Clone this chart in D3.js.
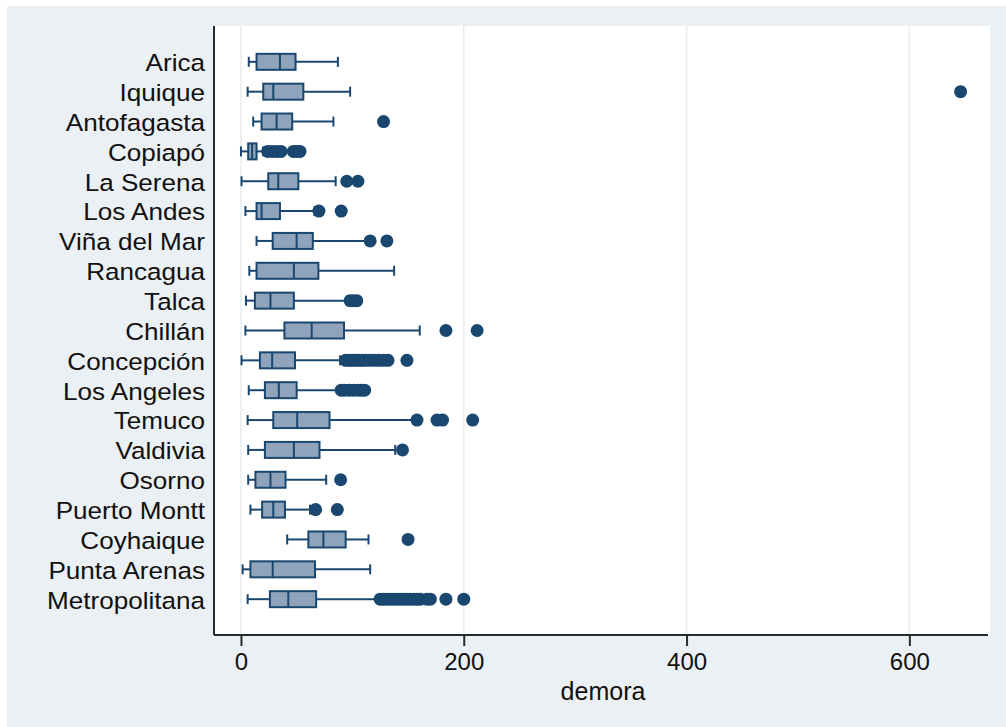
<!DOCTYPE html>
<html>
<head>
<meta charset="utf-8">
<script src="https://cdn.jsdelivr.net/npm/d3@7"></script>
<style>
  html, body { margin: 0; padding: 0; background: #ffffff; }
  svg { display: block; }
  text { font-family: "Liberation Sans", Arial, Helvetica, sans-serif; fill: #111; }
</style>
</head>
<body>
<svg id="chart" width="1006" height="727"></svg>
<script>
// Waiting time ("demora") by region: box plot summary statistics
const categories = ["Arica", "Iquique", "Antofagasta", "Copiapó", "La Serena", "Los Andes",
  "Viña del Mar", "Rancagua", "Talca", "Chillán", "Concepción", "Los Angeles", "Temuco",
  "Valdivia", "Osorno", "Puerto Montt", "Coyhaique", "Punta Arenas", "Metropolitana"];

const lowerWhisker = [7, 6, 11, 0, 0.5, 4, 14, 7.5, 4.5, 4, 0.5, 7, 6, 6.5, 6.5, 8.5, 41.5, 1.5, 6];
const q1           = [14, 20, 18.5, 6.5, 24.5, 14, 28.5, 14, 12.5, 39, 17, 21.5, 29, 21.5, 13, 19, 60.5, 8.5, 26];
const median       = [35, 29, 32, 10, 33.5, 18.5, 50, 47.5, 26.5, 63.5, 28, 34, 50.5, 47.5, 26.5, 29, 74, 28.5, 42.5];
const q3           = [49, 56, 46, 14, 51.5, 35, 64.5, 69.5, 47.5, 92.5, 48.5, 50, 79.5, 70.5, 40, 39.5, 94, 66.5, 67.5];
const upperWhisker = [87, 98, 83, 20, 85, 66, 113, 137.5, 95, 160.5, 89, 88, 155, 138.5, 76.5, 62, 114.5, 116, 122];
const outliers = [
  [],
  [646],
  [128],
  [24, 28, 32, 36, 47, 50, 53],
  [95, 105],
  [70, 90],
  [116, 131],
  [],
  [98, 101, 104],
  [184, 212],
  [94, 97, 100, 103, 106, 109, 112, 116, 120, 124, 128, 132, 149],
  [90, 93, 97, 101, 105, 108, 111],
  [158, 176, 181, 208],
  [145],
  [89.5],
  [67, 86.5],
  [150],
  [],
  [125, 128, 131, 134, 137, 140, 143, 146, 149, 152, 155, 158, 161, 167, 170, 184, 200]
];
const xTicks = [0, 200, 400, 600];
const xTitle = "demora";

const W = 1006, H = 727;
const plot = { left: 214, right: 990, top: 26, bottom: 635 };
const navy = "#1a476f";
const boxFill = "#8fa3bb";
const boxH = 16, capH = 10;

const svg = d3.select("#chart");

// outer region: thin white strip at top and left, bluish-gray elsewhere
svg.append("rect").attr("width", W).attr("height", H).attr("fill", "#ffffff");
svg.append("rect").attr("x", 7).attr("y", 6).attr("width", W - 7).attr("height", H - 6).attr("fill", "#eaf0f3");
svg.append("rect")
  .attr("x", plot.left).attr("y", plot.top)
  .attr("width", plot.right - plot.left).attr("height", plot.bottom - plot.top)
  .attr("fill", "#ffffff");

const x = d3.scaleLinear().domain([-24.2, 672.4]).range([plot.left, plot.right]);
const y = d3.scalePoint().domain(categories).range([plot.top, plot.bottom]).padding(1.2);

// vertical grid lines
svg.append("g").selectAll("line").data(xTicks).join("line")
  .attr("x1", d => x(d)).attr("x2", d => x(d))
  .attr("y1", plot.top).attr("y2", plot.bottom)
  .attr("stroke", "#e7ecee").attr("stroke-width", 1.5);

const rows = categories.map((c, i) => ({
  c, lw: lowerWhisker[i], q1: q1[i], med: median[i], q3: q3[i], uw: upperWhisker[i], out: outliers[i]
}));

const g = svg.append("g").selectAll("g").data(rows).join("g")
  .attr("transform", d => `translate(0,${y(d.c)})`);

// whiskers
g.append("line").attr("x1", d => x(d.lw)).attr("x2", d => x(d.q1)).attr("y1", 0).attr("y2", 0)
  .attr("stroke", navy).attr("stroke-width", 2);
g.append("line").attr("x1", d => x(d.q3)).attr("x2", d => x(d.uw)).attr("y1", 0).attr("y2", 0)
  .attr("stroke", navy).attr("stroke-width", 2);
// whisker caps
g.append("line").attr("x1", d => x(d.lw)).attr("x2", d => x(d.lw)).attr("y1", -capH / 2).attr("y2", capH / 2)
  .attr("stroke", navy).attr("stroke-width", 2);
g.append("line").attr("x1", d => x(d.uw)).attr("x2", d => x(d.uw)).attr("y1", -capH / 2).attr("y2", capH / 2)
  .attr("stroke", navy).attr("stroke-width", 2);
// box
g.append("rect")
  .attr("x", d => x(d.q1)).attr("width", d => x(d.q3) - x(d.q1))
  .attr("y", -boxH / 2).attr("height", boxH)
  .attr("fill", boxFill).attr("stroke", navy).attr("stroke-width", 2);
// median
g.append("line").attr("x1", d => x(d.med)).attr("x2", d => x(d.med)).attr("y1", -boxH / 2).attr("y2", boxH / 2)
  .attr("stroke", navy).attr("stroke-width", 2);
// outside values
g.selectAll("circle").data(d => d.out).join("circle")
  .attr("cx", d => x(d)).attr("cy", 0).attr("r", 6.5).attr("fill", navy);

// category labels (slightly widened face)
svg.append("g").selectAll("text").data(categories).join("text")
  .attr("transform", d => `translate(205,${y(d)}) scale(1.11,1)`)
  .attr("dy", "0.4em")
  .attr("text-anchor", "end").attr("font-size", 23.5)
  .text(d => d);

// axes lines
svg.append("line").attr("x1", plot.left).attr("x2", plot.left).attr("y1", plot.top).attr("y2", plot.bottom)
  .attr("stroke", "#2b2b2b").attr("stroke-width", 2);
const xAxis = d3.axisBottom(x).tickValues(xTicks).tickSize(11).tickPadding(7).tickSizeOuter(0);
const ax = svg.append("g").attr("transform", `translate(0,${plot.bottom})`).call(xAxis);
ax.select(".domain").attr("d", `M${plot.left},0H${plot.right - 2}`).attr("stroke", "#2b2b2b").attr("stroke-width", 2);
ax.selectAll(".tick line").attr("stroke", "#2b2b2b").attr("stroke-width", 2);
ax.selectAll(".tick text").attr("font-size", 24).attr("fill", "#111")
  .attr("font-family", "'Liberation Sans', Arial, sans-serif");

svg.append("text").attr("x", x(325)).attr("y", 700).attr("text-anchor", "middle")
  .attr("font-size", 25).text(xTitle);
</script>
</body>
</html>
